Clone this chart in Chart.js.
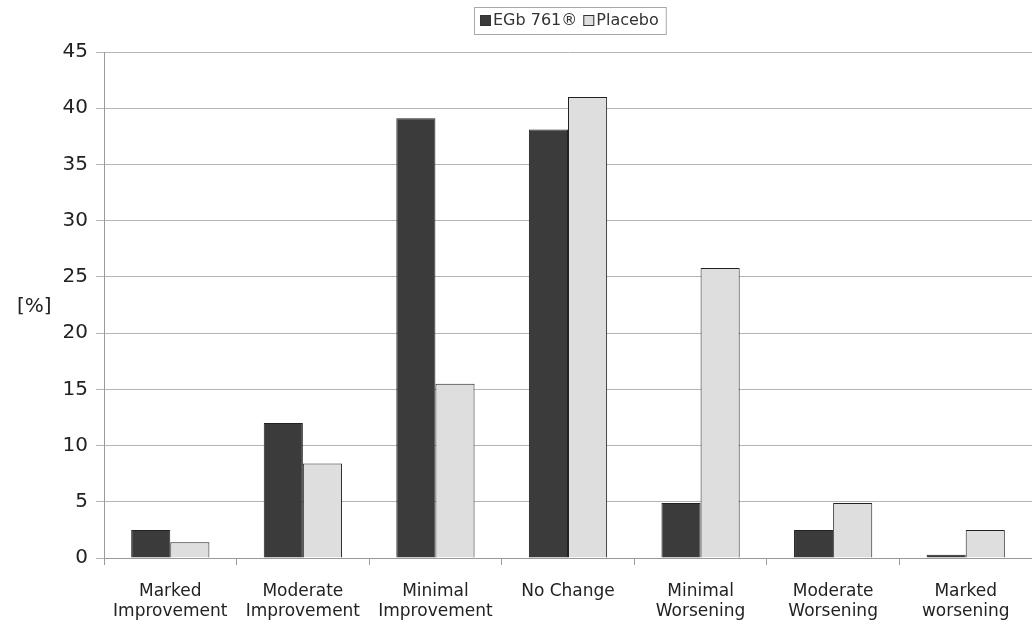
<!DOCTYPE html>
<html lang="en">
<head>
  <meta charset="UTF-8">
  <title>EGb 761 vs Placebo</title>
  <script src="https://cdn.jsdelivr.net/npm/chart.js"></script>
  <style>
    html, body { margin: 0; padding: 0; background: #fff; overflow: hidden; }
    #wrap { width: 1032px; height: 625px; }
  </style>
</head>
<body>
  <div id="wrap"><canvas id="outcomeChart"></canvas></div>

  <script>
    // categories (two-line labels)
    var categories = [
      ['Marked', 'Improvement'],
      ['Moderate', 'Improvement'],
      ['Minimal', 'Improvement'],
      ['No Change'],
      ['Minimal', 'Worsening'],
      ['Moderate', 'Worsening'],
      ['Marked', 'worsening']
    ];
    var egbValues = [2.5, 12.0, 39.1, 38.1, 4.9, 2.5, 0.3];
    var placeboValues = [1.4, 8.4, 15.5, 41.0, 25.8, 4.9, 2.5];
    var yTicks = [0, 5, 10, 15, 20, 25, 30, 35, 40, 45];

    var FONT = '"DejaVu Sans", Verdana, sans-serif';

    // legend drawn by hand in a framed box, plus the horizontal "[%]" label
    var extras = {
      id: 'extras',
      afterDraw: function(chart) {
        var ctx = chart.ctx;
        ctx.save();
        ctx.font = '16px ' + FONT;
        ctx.textBaseline = 'middle';
        ctx.textAlign = 'left';
        var x = 480, cy = 21;
        chart.data.datasets.forEach(function(ds, i) {
          if (i > 0) x += 6;
          ctx.fillStyle = ds.backgroundColor;
          ctx.fillRect(x, cy - 6, 11, 11);
          ctx.strokeStyle = '#333';
          ctx.lineWidth = 1;
          ctx.strokeRect(x + 0.5, cy - 5.5, 10, 10);
          x += 13;
          ctx.fillStyle = '#333';
          ctx.fillText(ds.label, x, cy);
          x += ctx.measureText(ds.label).width;
        });
        ctx.strokeStyle = '#a8a8a8';
        ctx.strokeRect(474.5, 7.5, x + 7 - 474, 27);

        ctx.fillStyle = '#222';
        ctx.font = '20px ' + FONT;
        ctx.fillText('[%]', 17, 307);
        ctx.restore();
      }
    };

    var ctx = document.getElementById('outcomeChart').getContext('2d');
    var chart = new Chart(ctx, {
      type: 'bar',
      data: {
        labels: categories,
        datasets: [{
          label: 'EGb 761®',
          data: egbValues,
          backgroundColor: '#3b3b3b',
          borderColor: '#222',
          borderWidth: 1
        }, {
          label: 'Placebo',
          data: placeboValues,
          backgroundColor: '#dedede',
          borderColor: '#222',
          borderWidth: 1
        }]
      },
      options: {
        responsive: true,
        maintainAspectRatio: false,
        animation: false,
        layout: { padding: { top: 52, right: 0, bottom: 0, left: 0 } },
        datasets: {
          bar: { categoryPercentage: 0.59, barPercentage: 1.0 }
        },
        plugins: {
          tooltip: { enabled: false },
          legend: { display: false }
        },
        scales: {
          x: {
            grid: {
              offset: true,
              drawOnChartArea: false,
              color: '#9a9a9a',
              tickLength: 7
            },
            border: { color: '#9a9a9a' },
            ticks: {
              font: { family: FONT, size: 17, lineHeight: 1.2 },
              color: '#222',
              padding: 16,
              maxRotation: 0,
              autoSkip: false
            },
            afterFit: function(scale) { scale.height = 67; }
          },
          y: {
            min: 0,
            max: 45,
            afterBuildTicks: function(scale) {
              scale.ticks = yTicks.map(function(v) { return { value: v }; });
            },
            grid: {
              color: '#b5b5b5',
              tickLength: 8
            },
            border: { color: '#9a9a9a' },
            ticks: {
              font: { family: FONT, size: 20 },
              color: '#222',
              padding: 8
            },
            afterFit: function(scale) { scale.width = 104; }
          }
        }
      },
      plugins: [extras]
    });
  </script>
</body>
</html>
